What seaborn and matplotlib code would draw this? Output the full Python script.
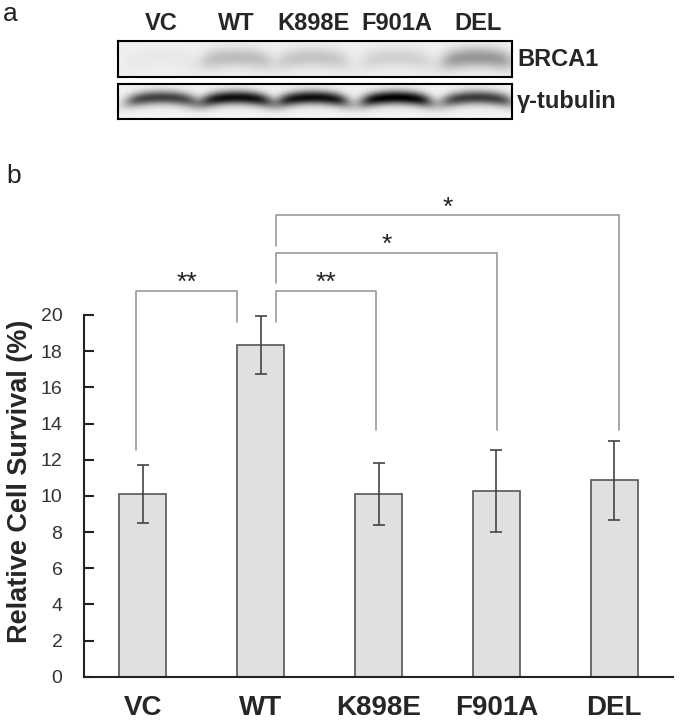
import numpy as np
import pandas as pd
import seaborn as sns
import matplotlib.pyplot as plt

# data
groups = ['VC', 'WT', 'K898E', 'F901A', 'DEL']
survival = [10.1, 18.35, 10.1, 10.27, 10.85]
survival_err = [1.6, 1.6, 1.73, 2.28, 2.17]

# significance brackets (pairs of bar indices + stars)
sig_pairs = [(0, 1), (1, 2), (1, 3), (1, 4)]
sig_labels = ['**', '**', '*', '*']

# western blot band strength (0 = none, 1 = saturated)
brca1_bands = [0.03, 0.2, 0.17, 0.12, 0.35]
tubulin_bands = [0.7, 0.9, 0.9, 0.95, 0.72]
blot_rows = ['BRCA1', '\u03b3-tubulin']

sns.set_style('white')
plt.rcParams['font.family'] = ['Liberation Sans', 'DejaVu Sans']

W, H = 682, 722
fig = plt.figure(figsize=(W / 100, H / 100), dpi=100)

#%% panel a : blot
lane_pos = [0.11, 0.30, 0.495, 0.707, 0.913]
lane_hw = 0.085


def blot_image(strength, bg, sy, yc):
    x = np.linspace(0, 1, 400)
    y = np.linspace(0, 1, 40)
    img = np.full((40, 400), bg)
    for c, s in zip(lane_pos, strength):
        hx = 1 / (1 + np.exp((np.abs(x - c) - lane_hw) / 0.012))
        yy = yc + 0.12 * ((x - c) / lane_hw) ** 2
        img += s * hx[None, :] * np.exp(-((y[:, None] - yy[None, :]) / sy) ** 2)
    return 1 - np.clip(img, 0, 1)


box_l, box_r = 118, 512
rows = [(41, 77, brca1_bands, 0.06, 0.28, 0.45), (84, 119, tubulin_bands, 0.05, 0.2, 0.38)]
for (top, bot, strength, bg, sy, yc), name in zip(rows, blot_rows):
    bax = fig.add_axes([box_l / W, 1 - bot / H, (box_r - box_l) / W, (bot - top) / H])
    bax.imshow(blot_image(strength, bg, sy, yc), cmap='gray', vmin=0, vmax=1, aspect='auto')
    bax.set_xticks([])
    bax.set_yticks([])
    for sp in bax.spines.values():
        sp.set_color('black')
        sp.set_linewidth(1.5)
    fig.text((box_r + 5) / W, 1 - (top + bot) / 2 / H, name, fontsize=17, fontweight='bold',
             ha='left', va='center')

for c, g in zip(lane_pos, groups):
    fig.text((box_l + c * (box_r - box_l)) / W, 1 - 23 / H, g, fontsize=17, fontweight='bold',
             ha='center', va='center')

fig.text(10 / W, 1 - 14 / H, 'a', fontsize=19, color='#222222', ha='center', va='center')
fig.text(14 / W, 1 - 176 / H, 'b', fontsize=19, color='#222222', ha='center', va='center')

#%% panel b : bars
ax = fig.add_axes([84 / W, 1 - 676.7 / H, (673 - 84) / W, (676.7 - 315) / H])
df = pd.DataFrame({'group': groups, 'survival': survival})
sns.barplot(data=df, x='group', y='survival', color='#e0e0e0', width=0.4,
            edgecolor='#555555', linewidth=1.2, saturation=1, ax=ax)
ax.errorbar(range(len(groups)), survival, yerr=survival_err, fmt='none',
            ecolor='#444444', elinewidth=1.2, capsize=4.5, capthick=1.2)

ax.set_xlim(-0.5, 4.5)
ax.set_ylim(0, 20)
ax.set_yticks(range(0, 21, 2))
ax.set_xticks([i + 0.5 for i in range(len(groups))], minor=False)
ax.set_xticklabels([])
ax.set_xticks(range(len(groups)), minor=True)
ax.set_xticklabels(groups, minor=True, fontsize=20, fontweight='bold')
ax.tick_params(axis='x', which='major', direction='in', length=6, width=1.5, color='#222222')
ax.tick_params(axis='x', which='minor', length=0, pad=13.5)
ax.tick_params(axis='y', direction='in', length=7, width=1.5, color='#222222',
               labelsize=14, labelcolor='#333333', pad=15.5, left=True)
ax.set_xlabel('')
ax.set_ylabel('Relative Cell Survival (%)', fontsize=19.5, fontweight='bold')
ax.yaxis.set_label_coords(-0.086, 0.541)
sns.despine(ax=ax)
for side in ['left', 'bottom']:
    ax.spines[side].set_linewidth(1.5)
    ax.spines[side].set_color('#222222')

# brackets
leg_off = [(-0.06, -0.2), (0.13, -0.02), (0.13, 0.01), (0.13, 0.04)]
line_y = [21.35, 21.35, 23.45, 25.54]
leg_low = [(12.54, 19.62), (19.62, 13.65), (21.76, 13.65), (23.82, 13.65)]
for (i, j), lab, (oi, oj), yl, (li, lj) in zip(sig_pairs, sig_labels, leg_off, line_y, leg_low):
    xi, xj = i + oi, j + oj
    ax.plot([xi, xi, xj, xj], [li, yl, yl, lj], color='#999999', lw=1.2, clip_on=False)
    ax.text((xi + xj) / 2, yl + 0.02, lab, ha='center', va='baseline', fontsize=19, color='#222222')

plt.savefig('out.png', dpi=100)
